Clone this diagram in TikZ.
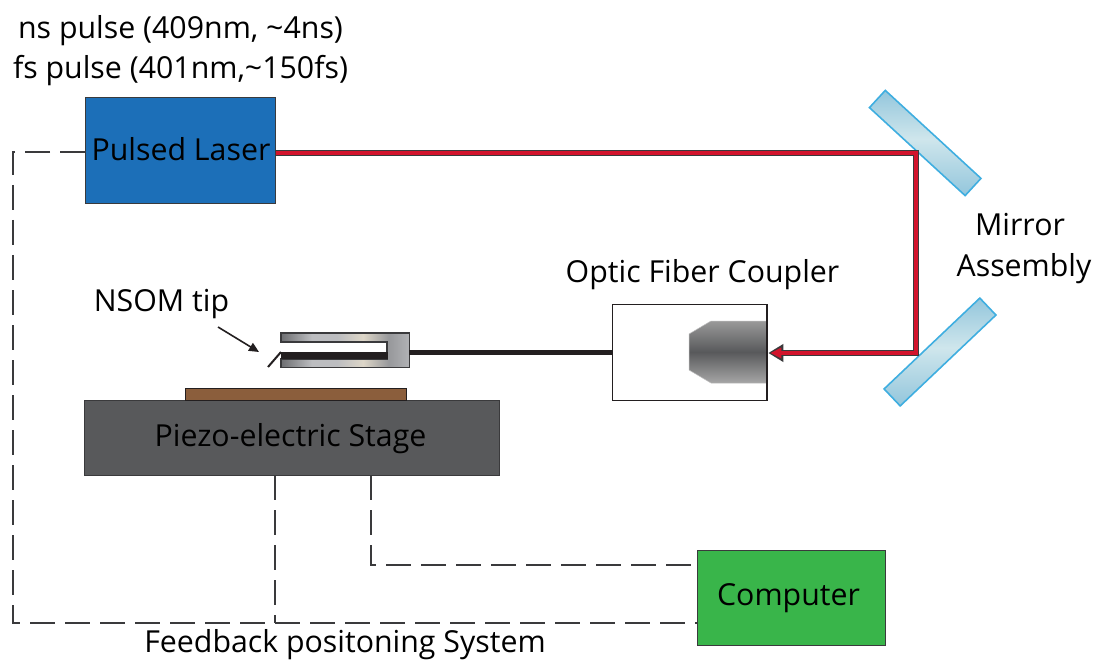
\documentclass[tikz,border=0pt]{standalone}
\usepackage{fontspec}
\setmainfont{Open Sans}
\usetikzlibrary{arrows.meta,calc}
\definecolor{inkdark}{HTML}{3A3A3C}
\definecolor{laserblue}{HTML}{1C6FB8}
\definecolor{stagegray}{HTML}{58595B}
\definecolor{samplebrown}{HTML}{8B5E3C}
\definecolor{compgreen}{HTML}{39B54A}
\definecolor{beamred}{HTML}{D2142C}
\definecolor{mirrorline}{HTML}{3FAEE0}
\definecolor{mirrordeep}{HTML}{93C6DC}
\definecolor{mirrorlight}{HTML}{CFE6EC}
\definecolor{fiberblack}{HTML}{231F20}
\definecolor{forkdark}{HTML}{6D6E71}
\definecolor{forkmid}{HTML}{BCBDC0}
\definecolor{forkpale}{HTML}{DDD6C8}
\definecolor{forkright}{HTML}{97989B}
\pgfdeclareverticalshading{objshade}{100bp}{
 color(0bp)=(black!35!white); color(25bp)=(black!35!white); color(50bp)=(stagegray); color(75bp)=(black!40!white); color(100bp)=(black!40!white)}
\pgfdeclarehorizontalshading{forkshade}{100bp}{
 color(0bp)=(forkdark); color(25bp)=(forkdark); color(37bp)=(forkmid); color(47bp)=(forkmid); color(57bp)=(forkpale); color(67bp)=(forkright); color(75bp)=(forkmid!70!forkright); color(100bp)=(forkright)}
\pgfdeclareverticalshading{mirrorshade}{100bp}{
 color(0bp)=(mirrordeep); color(25bp)=(mirrordeep); color(52bp)=(mirrorlight); color(75bp)=(mirrordeep); color(100bp)=(mirrordeep)}
\tikzset{
 lbl/.style={font=\fontsize{30.3}{33}\selectfont, inner sep=0pt, text=black},
 boxnode/.style={draw=inkdark, line width=1pt, inner sep=0pt, anchor=north west},
 dashconn/.style={draw=inkdark, line width=1.1pt, dash pattern=on 25pt off 10pt},
 mirrorbox/.style={draw=mirrorline, line width=1.6pt, shading=mirrorshade},
}
\begin{document}
\begin{tikzpicture}[x=1pt,y=-1pt]
\useasboundingbox (0,0) rectangle (1094,660);
% boxes
\node[boxnode, fill=laserblue, minimum width=190pt, minimum height=106pt] (laser) at (85,97) {};
\node[lbl] (laserlabel) at (181,149) {Pulsed Laser};
\node[boxnode, fill=stagegray, minimum width=415pt, minimum height=75pt] (stage) at (84,400) {};
\node[lbl] (stagelabel) at (290.5,439) {Piezo-electric Stage};
\node[boxnode, fill=samplebrown, draw=fiberblack, minimum width=221pt, minimum height=12pt] (sample) at (185,388) {};
\node[boxnode, fill=compgreen, minimum width=188pt, minimum height=95pt] (computer) at (697,550) {};
\node[lbl] (computerlabel) at (788.5,598) {Computer};
\node[boxnode, draw=fiberblack, line width=1.3pt, fill=white, minimum width=155pt, minimum height=96pt] (coupler) at (612,304) {};
% objective
\shade[shading=objshade, draw=black!25!white, line width=.5pt] (689,334) -- (711,321) -- (767,321) -- (767,383) -- (711,383) -- (689,370) -- cycle;
\draw[fiberblack, line width=1.3pt] (767,304) -- (767,400);
% mirrors
\begin{scope}[shift={(925.2,143)}, rotate=-42.6]
\shade[mirrorbox] (-65,-11.7) rectangle (65,11.7);
\end{scope}
\begin{scope}[shift={(940,352)}, rotate=43.5]
\shade[mirrorbox] (-66,-11.7) rectangle (66,11.7);
\end{scope}
% beam
\coordinate (corner1) at (916,153);
\coordinate (corner2) at (916,353);
\draw[inkdark, line width=5.6pt, -{Triangle[length=15pt,width=17pt]}] (laser.east |- corner1) -- (corner1) -- (corner2) -- (coupler.east |- corner2);
\draw[beamred, line width=3.4pt, -{Triangle[length=11pt,width=10pt]}, shorten >=2pt] (laser.east |- corner1) -- (corner1) -- (corner2) -- (coupler.east |- corner2);
% fork
\coordinate (forkE) at (409,352);
\shade[shading=forkshade, draw=inkdark, line width=1.2pt] (281,333) -- (409.3,333) -- (409.3,367.3) -- (281,367.3) -- (281,359) -- (387,359) -- (387,342) -- (281,342) -- cycle;
\fill[fiberblack] (281,352) rectangle (387.5,359);
\draw[fiberblack, line width=2pt] (281,352) -- (268,367);
\draw[fiberblack, line width=5pt] (forkE) -- (coupler.west |- forkE);
% labels
\node[lbl] (nsom) at (161.5,304) {NSOM tip};
\coordinate (tiptarget) at (259,352);
\draw[fiberblack, line width=1.6pt, -{Triangle[length=10pt,width=9pt]}] (218,327) -- (tiptarget);
\node[lbl] (couplerlabel) at (702.5,275) {Optic Fiber Coupler};
\node[lbl] (mirror1) at (1020,225) {Mirror};
\node[lbl] (mirror2) at (1024,269) {Assembly};
\node[lbl] (ns) at (180.5,31) {ns pulse (409nm, \textasciitilde4ns)};
\node[lbl] (fs) at (180.5,71) {fs pulse (401nm,\textasciitilde150fs)};
\node[lbl] (feedback) at (345,644.5) {Feedback positoning System};
% dashed connectors
\coordinate (tl) at (13,152);
\coordinate (bl) at (13,623);
\coordinate (s1) at (275,475);
\coordinate (s1b) at (275,623);
\coordinate (s2) at (371,475);
\coordinate (s2b) at (371,565);
\draw[dashconn] (laser.west |- tl) -- (tl) -- (bl) -- (computer.west |- bl);
\draw[dashconn] (s1) -- (s1b);
\draw[dashconn] (s2) -- (s2b) -- (computer.west |- s2b);
\end{tikzpicture}
\end{document}
